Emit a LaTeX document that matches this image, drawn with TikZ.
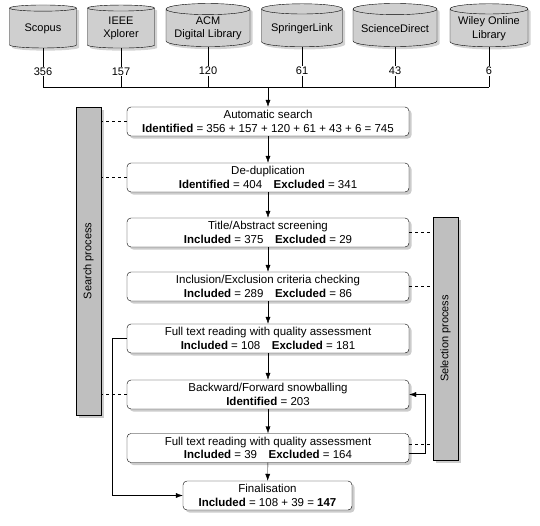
\documentclass[tikz,border=0pt]{standalone}
\usepackage{fontspec}
\setmainfont{Liberation Sans}
\usepackage{tikz}
\usetikzlibrary{shapes.geometric,shadows,arrows.meta}

\tikzset{
  db/.style={cylinder, shape border rotate=90, draw, fill=gray!38, aspect=0.16,
    minimum height=43pt, align=center, font=\fontsize{11}{13.5}\selectfont,
    inner sep=1pt, drop shadow={opacity=0.35}},
  stage/.style={draw, rounded corners=4pt, fill=white, minimum width=282pt,
    minimum height=29pt, align=center, inner sep=1pt,
    font=\fontsize{11.5}{13.5}\selectfont, drop shadow={opacity=0.4}},
  phase/.style={draw, fill=gray!50, rotate=90, minimum height=25pt,
    font=\fontsize{11}{13}\selectfont, drop shadow={opacity=0.4}},
  flow/.style={-{Latex[length=7pt,width=5pt]}},
  count/.style={fill=white, inner sep=1pt, font=\fontsize{11}{13}\selectfont}
}

\begin{document}
\begin{tikzpicture}[x=1pt, y=-1pt]
\useasboundingbox (0,0) rectangle (540,525);
% data sources
\node[db, minimum width=67pt] (scopus) at (43,28.5) {Scopus};
\node[db, minimum width=67pt] (ieee) at (121,28.5) {IEEE\\Xplorer};
\node[db, minimum width=84pt] (acm) at (208,28.5) {ACM\\Digital Library};
\node[db, minimum width=81pt] (springer) at (302,28.5) {SpringerLink};
\node[db, minimum width=84pt] (sciencedirect) at (395,28.5) {ScienceDirect};
\node[db, minimum width=78pt] (wiley) at (489,28.5) {Wiley Online\\Library};
\coordinate (bus) at (268,87);
\draw (scopus.south) -- node[count, pos=0.6] {356} (scopus.south |- bus);
\draw (ieee.south) -- node[count, pos=0.6] {157} (ieee.south |- bus);
\draw (acm.south) -- node[count, pos=0.6] {120} (acm.south |- bus);
\draw (springer.south) -- node[count, pos=0.6] {61} (springer.south |- bus);
\draw (sciencedirect.south) -- node[count, pos=0.6] {43} (sciencedirect.south |- bus);
\draw (wiley.south) -- node[count, pos=0.6] {6} (wiley.south |- bus);
\draw (scopus.south |- bus) -- (wiley.south |- bus);
% stages
\node[stage] (auto) at (268,121.5) {Automatic search\\\textbf{Identified} = 356 + 157 + 120 + 61 + 43 + 6 = 745};
\node[stage] (dedup) at (268,177.5) {De-duplication\\\textbf{Identified} = 404\quad\textbf{Excluded} = 341};
\node[stage] (title) at (268,232.5) {Title/Abstract screening\\\textbf{Included} = 375\quad\textbf{Excluded} = 29};
\node[stage] (criteria) at (268,286.5) {Inclusion/Exclusion criteria checking\\\textbf{Included} = 289\quad\textbf{Excluded} = 86};
\node[stage] (fulltext1) at (268,338.5) {Full text reading with quality assessment\\\textbf{Included} = 108\quad\textbf{Excluded} = 181};
\node[stage] (snowball) at (268,394.5) {Backward/Forward snowballing\\\textbf{Identified} = 203};
\node[stage] (fulltext2) at (268,448) {Full text reading with quality assessment\\\textbf{Included} = 39\quad\textbf{Excluded} = 164};
\node[stage, minimum width=169pt] (final) at (267.5,495.5) {Finalisation\\\textbf{Included} = 108 + 39 = \textbf{147}};
% phases
\node[phase, minimum width=308pt] (search) at (88.5,261) {Search process};
\node[phase, minimum width=243pt] (selection) at (445.5,338.5) {Selection process};
% flow
\draw[flow] (bus) -- (auto);
\draw[flow] (auto) -- (dedup);
\draw[flow] (dedup) -- (title);
\draw[flow] (title) -- (criteria);
\draw[flow] (criteria) -- (fulltext1);
\draw[flow] (fulltext1) -- (snowball);
\draw[flow] (snowball) -- (fulltext2);
\draw[flow] (fulltext2) -- (final);
\draw[flow] (fulltext1.west) -- ++(-15,0) |- (final.west);
\draw[flow] ([yshift=-5pt]fulltext2.east) -- ++(16,0) |- (snowball.east);
% phase links
\draw[dashed] (auto.west) -- (auto.west -| search.south);
\draw[dashed] (dedup.west) -- (dedup.west -| search.south);
\draw[dashed] (snowball.west) -- (snowball.west -| search.south);
\draw[dashed] (title.east) -- (title.east -| selection.north);
\draw[dashed] (criteria.east) -- (criteria.east -| selection.north);
\draw[dashed] ([yshift=4pt]fulltext2.east) -- ([yshift=4pt]fulltext2.east -| selection.north);
\end{tikzpicture}
\end{document}
